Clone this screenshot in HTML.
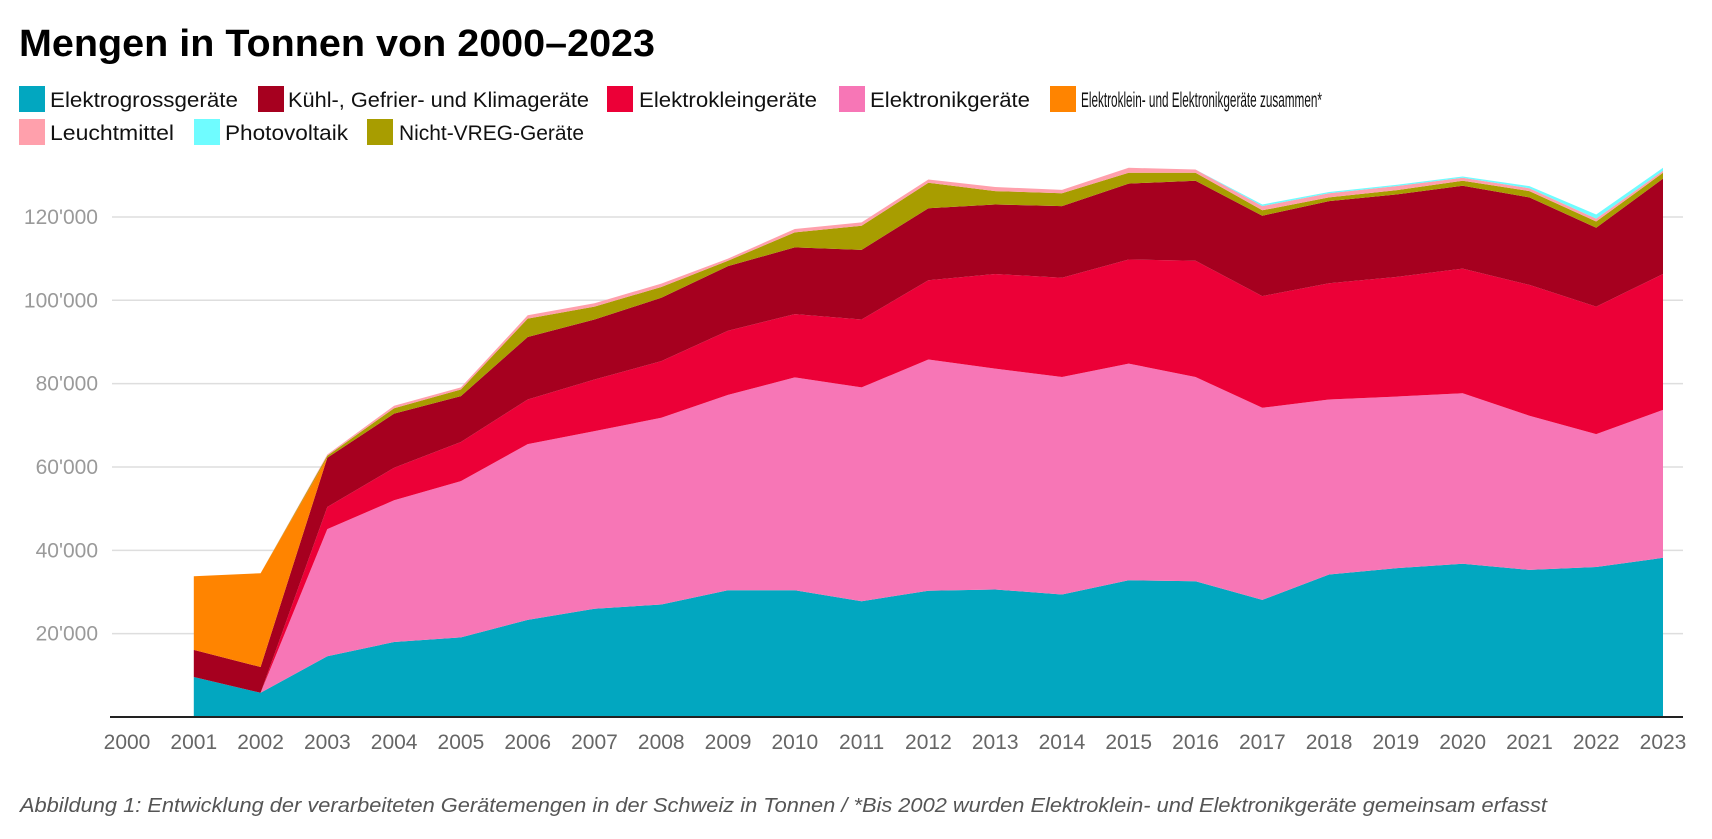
<!DOCTYPE html>
<html><head><meta charset="utf-8"><style>
html,body{margin:0;padding:0;background:#fff;}
svg{display:block;font-family:"Liberation Sans",sans-serif;}
</style></head><body>
<svg id="chart" width="1712" height="839" viewBox="0 0 1712 839">
<text x="19" y="56" font-size="38" font-weight="bold" fill="#000" textLength="636" lengthAdjust="spacingAndGlyphs">Mengen in Tonnen von 2000–2023</text>
<g id="legend"></g>
<g id="grid"></g>
<g id="areas"></g>
<g id="axes"></g>
<text x="20" y="812" font-size="20" font-style="italic" fill="#555" textLength="1527" lengthAdjust="spacingAndGlyphs">Abbildung 1: Entwicklung der verarbeiteten Gerätemengen in der Schweiz in Tonnen / *Bis 2002 wurden Elektroklein- und Elektronikgeräte gemeinsam erfasst</text>
</svg>
<script>
const years = [2000,2001,2002,2003,2004,2005,2006,2007,2008,2009,2010,2011,2012,2013,2014,2015,2016,2017,2018,2019,2020,2021,2022,2023];
const yTicks = [20000,40000,60000,80000,100000,120000];
const yTickLabels = ["20'000","40'000","60'000","80'000","100'000","120'000"];
const seriesNames = ["Elektrogrossgeräte","Elektronikgeräte","Elektrokleingeräte","Kühl-, Gefrier- und Klimageräte","Elektroklein- und Elektronikgeräte zusammen*","Nicht-VREG-Geräte","Leuchtmittel","Photovoltaik"];
const elektrogross = [null,9.6,5.8,14.6,18,19.1,23.3,26,27,30.4,30.4,27.8,30.3,30.6,29.4,32.8,32.6,28.1,34.2,35.7,36.8,35.3,36,38.2];
const elektronik = [null,0,0,30.5,34,37.5,42.2,42.6,44.8,46.9,51.1,51.3,55.5,53,52.2,52,49,46.1,42,41.2,40.9,37,31.9,35.5];
const elektroklein = [null,0,0,5.3,7.8,9.4,10.7,12.4,13.6,15.4,15.2,16.3,19,22.7,23.8,25,27.9,26.8,27.9,28.7,29.9,31.4,30.6,32.6];
const kuehl = [null,6.5,6.2,11.8,13,11,15,14.4,15.2,15.5,16,16.7,17.3,16.7,17.2,18.2,19.2,19.3,19.7,19.8,19.9,21,18.9,22.9];
const zusammen = [null,17.7,22.5,0,0,0,0,0,0,0,0,0,0,0,0,0,0,0,0,0,0,0,0,0];
const nichtVreg = [null,0,0,0.5,1.3,1.6,4.4,3.1,2.6,1.3,3.6,5.8,6.1,3.2,3.1,2.6,1.9,1.3,0.9,1,1.2,1.5,1.5,1.4];
const leuchtmittel = [null,0,0,0.3,0.6,0.5,0.8,0.8,0.8,0.5,0.8,0.8,0.8,1,0.8,1.2,0.8,1,1,1,0.7,0.7,0.7,0.5];
const photovoltaik = [null,0,0,0,0,0,0,0,0,0,0,0,0,0,0,0,0,0.4,0.3,0.3,0.3,0.5,1,0.7];

const colors = ["#02a7c0","#f776b6","#ec0037","#a6001f","#ff8400","#a89d00","#ffa0ac","#6ffcff"];
const stackData = [elektrogross,elektronik,elektroklein,kuehl,zusammen,nichtVreg,leuchtmittel,photovoltaik];
const ns = "http://www.w3.org/2000/svg";
const x0 = 127, xStep = (1663-127)/23, yZero = 717, yPerK = 4.167;
function xs(i){return x0 + i*xStep;}
function yk(k){return yZero - k*yPerK;}
function mk(tag, attrs, parent){const e=document.createElementNS(ns,tag);for(const k in attrs)e.setAttribute(k,attrs[k]);parent.appendChild(e);return e;}

const grid=document.getElementById('grid');
yTicks.forEach((t,i)=>{
  const l=mk('line',{x1:112,x2:1683,y1:yk(t/1000),y2:yk(t/1000),stroke:'#dedede','stroke-width':1.5},grid);
  
  
  const tx=mk('text',{x:98,y:yk(t/1000)+7,'text-anchor':'end','font-size':21,fill:'#9a9a9a'},grid);
  tx.textContent=yTickLabels[i];
  
  
});

const areas=document.getElementById('areas');
let base=years.map(()=>0);
stackData.forEach((s,si)=>{
  const top=base.map((b,i)=>b+(s[i]||0));
  let pts=[];
  for(let i=1;i<years.length;i++)pts.push(xs(i).toFixed(1)+','+yk(top[i]).toFixed(1));
  for(let i=years.length-1;i>=1;i--)pts.push(xs(i).toFixed(1)+','+yk(base[i]).toFixed(1));
  const p=mk('polygon',{points:pts.join(' '),fill:colors[si]},areas);
  
  
  base=top;
});

const axes=document.getElementById('axes');
const ax=mk('line',{x1:110,x2:1683,y1:yZero,y2:yZero,stroke:'#222','stroke-width':2},axes);


years.forEach((yr,i)=>{
  const t=mk('text',{x:xs(i),y:749,'text-anchor':'middle','font-size':21,fill:'#666'},axes);
  t.textContent=yr;
  
  
});

const legendItems=[
 {n:0,sx:19,tx:50,y:86,w:188},
 {n:3,sx:258,tx:288,y:86,w:301},
 {n:2,sx:607,tx:639,y:86,w:178},
 {n:1,sx:839,tx:870,y:86,w:160},
 {n:4,sx:1050,tx:1081,y:86,w:241},
 {n:6,sx:19,tx:50,y:119,w:124},
 {n:7,sx:194,tx:225,y:119,w:123},
 {n:5,sx:367,tx:399,y:119,w:185}
];
const legend=document.getElementById('legend');
legendItems.forEach(it=>{
  const r=mk('rect',{x:it.sx,y:it.y,width:26,height:26,fill:colors[it.n]},legend);
  
  
  const t=mk('text',{x:it.tx,y:it.y+21,'font-size':21,fill:'#111',textLength:it.w,lengthAdjust:'spacingAndGlyphs'},legend);
  t.textContent=seriesNames[it.n];
  
  
});
</script>
</body></html>
